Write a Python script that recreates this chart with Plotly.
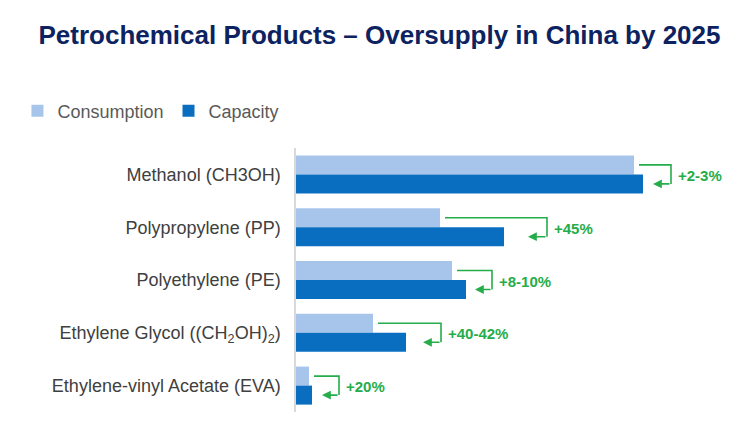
import plotly.graph_objs as go

# data (relative units)
products = ["Methanol (CH3OH)", "Polypropylene (PP)", "Polyethylene (PE)",
            "Ethylene Glycol ((CH<sub>2</sub>OH)<sub>2</sub>)",
            "Ethylene-vinyl Acetate (EVA)"]
consumption = [338, 144, 156, 77, 13]
capacity = [347, 208, 170, 110, 16]
oversupply = ["+2-3%", "+45%", "+8-10%", "+40-42%", "+20%"]

LIGHT_BLUE = "#a7c5eb"
DARK_BLUE = "#0a6ec0"
GREEN = "#25ad4a"
HALF = 0.18  # half of one bar's slot, in y units

ypos = list(range(len(products)))

fig = go.Figure()
fig.add_trace(go.Bar(y=ypos, x=consumption, orientation='h', name='Consumption',
                     marker=dict(color=LIGHT_BLUE, line=dict(width=0))))
fig.add_trace(go.Bar(y=ypos, x=capacity, orientation='h', name='Capacity',
                     marker=dict(color=DARK_BLUE, line=dict(width=0))))

# green bracket arrows from consumption end to capacity end
reach = [28, 43, 26, 35, 27]   # how far right of the capacity bar the bracket goes
tip_gap = [10, 24, 9, 17, 10]
for i, (c, k, lbl) in enumerate(zip(consumption, capacity, oversupply)):
    x0 = c + 5
    xr = k + reach[i]
    xt = k + tip_gap[i]
    y_top, y_bot = i - HALF, i + HALF
    fig.add_shape(type='path', xref='x', yref='y',
                  path=f"M {x0},{y_top} L {xr},{y_top} L {xr},{y_bot}",
                  line=dict(color=GREEN, width=1.6))
    fig.add_annotation(x=xt, y=y_bot, ax=xr, ay=y_bot, xref='x', yref='y',
                       axref='x', ayref='y', text='', showarrow=True,
                       arrowhead=2, arrowsize=1.1, arrowwidth=1.6, arrowcolor=GREEN)
    fig.add_annotation(x=xr + 5, y=i + 0.02, xref='x', yref='y', text=f"<b>{lbl}</b>",
                       showarrow=False, xanchor='left', yanchor='middle',
                       font=dict(size=15, color=GREEN))

# faint slide frame line at the right edge
fig.add_shape(type='line', xref='paper', yref='paper', x0=1.009, x1=1.009,
              y0=-0.05, y1=1.53, line=dict(color='#ececec', width=1.5))

# the page body adds an 8px offset, so the figure is 8px smaller than the window
fig.update_layout(
    width=743, height=414,
    margin=dict(l=288, r=5, t=140, b=10, autoexpand=False),
    paper_bgcolor='white', plot_bgcolor='white',
    font=dict(family='Liberation Sans, Arial, sans-serif', color='#404040'),
    barmode='group', bargap=0.28, bargroupgap=0,
    title=dict(text='<b>Petrochemical Products – Oversupply in China by 2025</b>',
               x=0.5, xref='container', xanchor='center', y=0.935, yanchor='middle',
               font=dict(size=26, color='#0d2260')),
    showlegend=True,
    legend=dict(orientation='h', x=-0.619, xanchor='left', y=1.14, yanchor='middle',
                font=dict(size=18, color='#595959'), itemwidth=30,
                traceorder='normal', bgcolor='rgba(0,0,0,0)'),
    xaxis=dict(range=[0, 450], visible=False, fixedrange=True, automargin=False),
    yaxis=dict(tickvals=ypos, ticktext=products, range=[4.5, -0.5], automargin=False,
               showline=True, linecolor='#d9d9d9', linewidth=1.5,
               ticks='', showgrid=False, zeroline=False, ticklabelstandoff=10,
               tickfont=dict(size=18, color='#404040')),
)

fig.write_html("out.html")
